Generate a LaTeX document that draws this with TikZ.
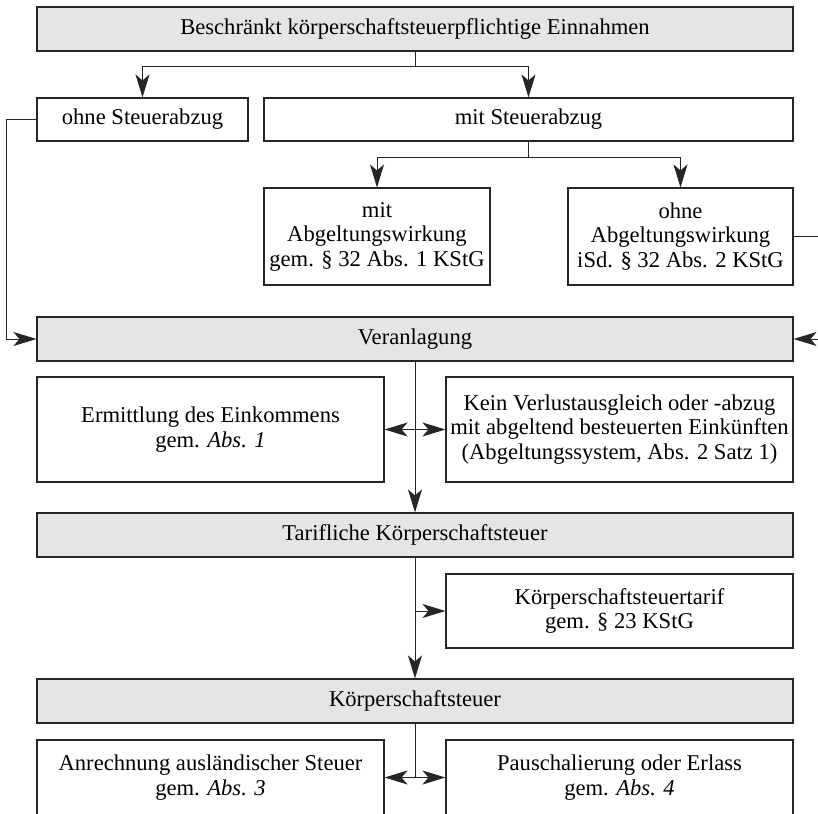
\documentclass[tikz,border=0pt]{standalone}
\usepackage{fontspec}
\setmainfont{Liberation Serif}
\usetikzlibrary{arrows.meta}
\usetikzlibrary{positioning}

\begin{document}
\begin{tikzpicture}[x=1pt,y=1pt,
    box/.style={draw=black!85,line width=1.1pt,align=center,inner sep=0pt,
      font=\fontsize{22.6}{24.5}\selectfont},
    gbox/.style={box,fill=black!10,minimum width=756pt,minimum height=44pt},
    hbox/.style={box,minimum width=347pt},
    spitze/.tip={Stealth[length=23pt,width=14pt,inset=6pt]},
    pfeil/.style={draw=black!85,line width=1pt,-{spitze}},
    dpfeil/.style={draw=black!85,line width=1pt,{spitze}-{spitze}},
    linie/.style={draw=black!85,line width=1pt}]
    \clip (0,0) rectangle (818,-813);
    \useasboundingbox (0,0) rectangle (818,-813);

    \node [gbox] (top) at (415,-29) {Beschränkt körperschaftsteuerpflichtige Einnahmen};
    \node [box,minimum width=211pt,minimum height=43pt] (ohne) at (142.5,-119.5) {ohne Steuerabzug};
    \node [box,minimum width=529pt,minimum height=43pt] (mit) at (528.5,-119.5) {mit Steuerabzug};
    \node [box,minimum width=226pt,minimum height=97pt] (mitab) at (377,-236.5)
      {mit\\Abgeltungswirkung\\gem. § 32 Abs. 1 KStG};
    \node [box,minimum width=225pt,minimum height=97pt] (ohneab) at (680.5,-236.5)
      {ohne\\Abgeltungswirkung\\iSd. § 32 Abs. 2 KStG};
    \node [gbox] (veran) at (415,-339) {Veranlagung};
    \node [hbox,minimum height=105pt] (ermitt) at (210.5,-429.5)
      {Ermittlung des Einkommens\\gem. \textit{Abs. 1}};
    \node [hbox,minimum height=105pt] (kein) at (619.5,-429.5)
      {Kein Verlustausgleich oder -abzug\\mit abgeltend besteuerten Einkünften\\(Abgeltungssystem, Abs. 2 Satz 1)};
    \node [gbox] (tarif) at (415,-535) {Tarifliche Körperschaftsteuer};
    \node [hbox,minimum height=74pt] (kstt) at (619.5,-611)
      {Körperschaftsteuertarif\\gem. § 23 KStG};
    \node [gbox] (kst) at (415,-701) {Körperschaftsteuer};
    \node [hbox,minimum height=75pt] (anr) at (210.5,-777.5)
      {Anrechnung ausländischer Steuer\\gem. \textit{Abs. 3}};
    \node [hbox,minimum height=75pt] (pau) at (619.5,-777.5)
      {Pauschalierung oder Erlass\\gem. \textit{Abs. 4}};

    \coordinate (ga) at ([yshift=-15pt]top.south);
    \coordinate (gb) at ([yshift=-16pt]mit.south);
    \draw [linie] (top.south) -- (ga);
    \draw [pfeil] (ga) -| (ohne.north);
    \draw [pfeil] (ga) -| (mit.north);
    \draw [linie] (mit.south) -- (gb);
    \draw [pfeil] (gb) -| (mitab.north);
    \draw [pfeil] (gb) -| (ohneab.north);
    \draw [pfeil] (ohne.west) -- ++(-30,0) |- (veran.west);
    \draw [pfeil] (ohneab.east) -- ++(40,0) |- (veran.east);
    \draw [pfeil] (veran.south) -- (tarif.north);
    \draw [dpfeil] (ermitt.east) -- (kein.west);
    \draw [pfeil] (tarif.south) -- (kst.north);
    \draw [pfeil] (tarif.south |- kstt.west) -- (kstt.west);
    \draw [linie] (kst.south) -- (kst.south |- anr.east);
    \draw [dpfeil] (anr.east) -- (pau.west);
  \end{tikzpicture}
\end{document}
